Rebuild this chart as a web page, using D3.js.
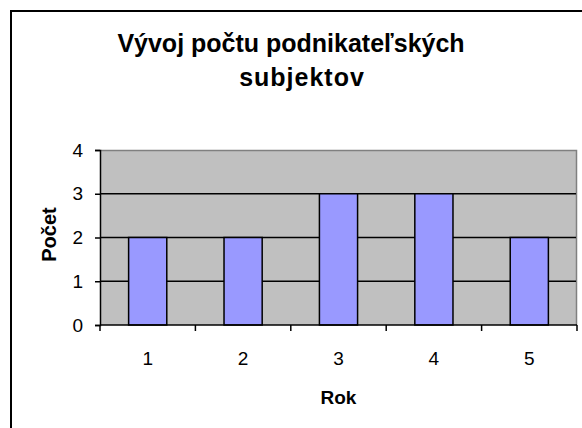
<!DOCTYPE html>
<html>
<head>
<meta charset="utf-8">
<script src="https://cdn.jsdelivr.net/npm/d3@7"></script>
<style>
  body { margin: 0; background: #fff; }
  text { font-family: "Liberation Sans", Arial, sans-serif; }
</style>
</head>
<body>
<div class="chart"></div>
<script>
// chart data
const years = ["1", "2", "3", "4", "5"];
const counts = [2, 2, 3, 3, 2];
const yTicks = [0, 1, 2, 3, 4];
const titleLines = ["Vývoj počtu podnikateľských", "subjektov"];

var W = 582, H = 428;
var margin = {top: 150, right: 5, bottom: 103, left: 100},
    width = W - margin.left - margin.right,
    height = H - margin.top - margin.bottom;

var svg = d3.select(".chart").append("svg")
    .attr("width", W)
    .attr("height", H);

// outer chart border (right/bottom run off the picture)
svg.append("rect")
    .attr("x", 11).attr("y", 11)
    .attr("width", W + 20).attr("height", H + 20)
    .style("fill", "#fff")
    .style("stroke", "#000")
    .style("stroke-width", 2);

// title, two lines (second one sits a bit to the right and is spaced out)
svg.selectAll(".title")
    .data(titleLines)
  .enter().append("text")
    .attr("class", "title")
    .attr("x", function(d, i) { return i ? 302 : 291; })
    .attr("y", function(d, i) { return 52 + i * 34; })
    .attr("text-anchor", "middle")
    .style("font-size", "25px")
    .style("font-weight", "bold")
    .style("letter-spacing", function(d, i) { return i ? "1px" : "0px"; })
    .text(function(d) { return d; });

var g = svg.append("g")
    .attr("transform", "translate(" + margin.left + "," + margin.top + ")");

// scales
var x = d3.scaleBand().domain(years).range([0, width]).paddingInner(0.6).paddingOuter(0.3);
var xb = d3.scaleBand().domain(years).range([0, width]);
var y = d3.scaleLinear().domain([0, 4]).range([height, 0]);

// plot area
g.append("rect")
    .attr("width", width).attr("height", height)
    .style("fill", "#c0c0c0");
g.append("path")
    .attr("d", "M0.5,0.5H" + (width - 0.5) + "V" + height)
    .style("fill", "none")
    .style("stroke", "#808080")
    .style("stroke-width", 1.5);

// gridlines
g.selectAll(".grid")
    .data(yTicks.filter(function(d) { return d > 0 && d < 4; }))
  .enter().append("line")
    .attr("x1", 0).attr("x2", width - 1)
    .attr("y1", function(d) { return y(d); })
    .attr("y2", function(d) { return y(d); })
    .style("stroke", "#000")
    .style("stroke-width", 1.5);

// bars
g.selectAll(".bar")
    .data(counts)
  .enter().append("rect")
    .attr("x", function(d, i) { return x(years[i]); })
    .attr("y", function(d) { return y(d); })
    .attr("width", x.bandwidth())
    .attr("height", function(d) { return height - y(d); })
    .style("fill", "#9999ff")
    .style("stroke", "#000")
    .style("stroke-width", 1.5);

// y axis
var yAxis = g.append("g")
    .call(d3.axisLeft(y).tickValues(yTicks).tickSize(5).tickPadding(12).tickFormat(d3.format("d")));
yAxis.select(".domain").style("stroke", "#000").style("stroke-width", 1.5);
yAxis.selectAll(".tick line").style("stroke", "#000").style("stroke-width", 1.5);
yAxis.selectAll(".tick text")
    .style("font-size", "19px")
    .style("font-family", "Liberation Sans, Arial, sans-serif")
    .style("fill", "#000");

// x axis: ticks at category boundaries
var xAxis = g.append("g")
    .attr("transform", "translate(0," + height + ")");
xAxis.append("line")
    .attr("x1", 0).attr("x2", width)
    .style("stroke", "#000")
    .style("stroke-width", 1.5);
xAxis.selectAll(".tick")
    .data(d3.range(years.length + 1))
  .enter().append("line")
    .attr("x1", function(d) { return d * xb.step(); })
    .attr("x2", function(d) { return d * xb.step(); })
    .attr("y1", 0).attr("y2", 6)
    .style("stroke", "#000")
    .style("stroke-width", 1.5);
xAxis.selectAll(".lbl")
    .data(years)
  .enter().append("text")
    .attr("x", function(d) { return xb(d) + xb.bandwidth() / 2; })
    .attr("y", 40)
    .attr("text-anchor", "middle")
    .style("font-size", "19px")
    .text(function(d) { return d; });

// axis titles
g.append("text")
    .attr("x", width / 2)
    .attr("y", height + 79)
    .attr("text-anchor", "middle")
    .style("font-size", "19px")
    .style("font-weight", "bold")
    .text("Rok");

g.append("text")
    .attr("transform", "translate(-44," + (height / 2 - 3) + ") rotate(-90)")
    .attr("text-anchor", "middle")
    .style("font-size", "20px")
    .style("font-weight", "bold")
    .text("Počet");
</script>
</body>
</html>
